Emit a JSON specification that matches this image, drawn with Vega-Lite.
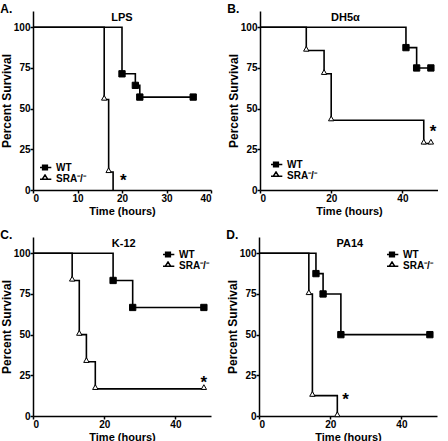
{
  "$schema": "https://vega.github.io/schema/vega-lite/v6.json",
  "padding": {"left": 0, "top": 3, "right": 0, "bottom": 0},
  "background": "white",
  "spacing": 13,
  "resolve": {"scale": {"shape": "independent", "fill": "independent", "x": "independent", "y": "independent"}, "legend": {"shape": "independent", "fill": "independent"}},
  "config": {
    "font": "Liberation Sans",
    "view": {"stroke": null},
    "axis": {"grid": false, "domainColor": "#000", "domainWidth": 1.5, "tickColor": "#000", "tickWidth": 1.5, "tickSize": 3, "labelFontSize": 10, "labelFontWeight": "bold", "labelColor": "#000", "labelPadding": 0, "titleFontSize": 11, "titleFontWeight": "bold", "titleColor": "#000"},
    "axisY": {"titleFontSize": 12, "titlePadding": 0},
    "axisX": {"titlePadding": 2},
    "legend": {"title": null, "labelFontSize": 10, "labelFontWeight": "bold", "labelColor": "#000", "symbolSize": 40, "symbolStrokeWidth": 1.5, "symbolOpacity": 1, "rowPadding": 0, "padding": 0, "labelOffset": 6, "clipHeight": 9},
    "title": {"fontSize": 12, "fontWeight": "bold", "anchor": "start", "frame": "bounds", "color": "#000", "offset": -5, "baseline": "alphabetic"}
  },
  "datasets": {
    "km": [
      {"panel": "A", "group": "WT", "t": 0, "s": 100, "m": 0},
      {"panel": "A", "group": "WT", "t": 20, "s": 71.4, "m": 1},
      {"panel": "A", "group": "WT", "t": 23, "s": 64.3, "m": 1},
      {"panel": "A", "group": "WT", "t": 24, "s": 57.1, "m": 1},
      {"panel": "A", "group": "WT", "t": 36, "s": 57.1, "m": 1},
      {"panel": "A", "group": "SRA⁻/⁻", "t": 0, "s": 100, "m": 0},
      {"panel": "A", "group": "SRA⁻/⁻", "t": 16, "s": 55.6, "m": 1},
      {"panel": "A", "group": "SRA⁻/⁻", "t": 17, "s": 11.1, "m": 1},
      {"panel": "A", "group": "SRA⁻/⁻", "t": 18, "s": 0, "m": 0},
      {"panel": "B", "group": "WT", "t": 0, "s": 100, "m": 0},
      {"panel": "B", "group": "WT", "t": 41, "s": 87.5, "m": 1},
      {"panel": "B", "group": "WT", "t": 44, "s": 75, "m": 1},
      {"panel": "B", "group": "WT", "t": 48, "s": 75, "m": 1},
      {"panel": "B", "group": "SRA⁻/⁻", "t": 0, "s": 100, "m": 0},
      {"panel": "B", "group": "SRA⁻/⁻", "t": 13, "s": 85.7, "m": 1},
      {"panel": "B", "group": "SRA⁻/⁻", "t": 18, "s": 71.4, "m": 1},
      {"panel": "B", "group": "SRA⁻/⁻", "t": 20, "s": 42.9, "m": 1},
      {"panel": "B", "group": "SRA⁻/⁻", "t": 46, "s": 28.6, "m": 1},
      {"panel": "B", "group": "SRA⁻/⁻", "t": 48, "s": 28.6, "m": 1},
      {"panel": "C", "group": "WT", "t": 0, "s": 100, "m": 0},
      {"panel": "C", "group": "WT", "t": 22.5, "s": 83.3, "m": 1},
      {"panel": "C", "group": "WT", "t": 28, "s": 66.7, "m": 1},
      {"panel": "C", "group": "WT", "t": 48, "s": 66.7, "m": 1},
      {"panel": "C", "group": "SRA⁻/⁻", "t": 0, "s": 100, "m": 0},
      {"panel": "C", "group": "SRA⁻/⁻", "t": 11, "s": 83.3, "m": 1},
      {"panel": "C", "group": "SRA⁻/⁻", "t": 13, "s": 50, "m": 1},
      {"panel": "C", "group": "SRA⁻/⁻", "t": 15, "s": 33.3, "m": 1},
      {"panel": "C", "group": "SRA⁻/⁻", "t": 17.5, "s": 16.7, "m": 1},
      {"panel": "C", "group": "SRA⁻/⁻", "t": 48, "s": 16.7, "m": 1},
      {"panel": "D", "group": "WT", "t": 0, "s": 100, "m": 0},
      {"panel": "D", "group": "WT", "t": 16, "s": 87.5, "m": 1},
      {"panel": "D", "group": "WT", "t": 18, "s": 75, "m": 1},
      {"panel": "D", "group": "WT", "t": 23, "s": 50, "m": 1},
      {"panel": "D", "group": "WT", "t": 48, "s": 50, "m": 1},
      {"panel": "D", "group": "SRA⁻/⁻", "t": 0, "s": 100, "m": 0},
      {"panel": "D", "group": "SRA⁻/⁻", "t": 14, "s": 75, "m": 1},
      {"panel": "D", "group": "SRA⁻/⁻", "t": 15, "s": 12.5, "m": 1},
      {"panel": "D", "group": "SRA⁻/⁻", "t": 22, "s": 0, "m": 1}
    ],
    "notes": [
      {"panel": "A", "kind": "name", "t": 20, "s": 106, "label": "LPS"},
      {"panel": "A", "kind": "star", "t": 20.3, "s": 8, "label": "*"},
      {"panel": "B", "kind": "name", "t": 24, "s": 106, "label": "DH5α"},
      {"panel": "B", "kind": "star", "t": 48.6, "s": 38, "label": "*"},
      {"panel": "C", "kind": "name", "t": 25.5, "s": 106, "label": "K-12"},
      {"panel": "C", "kind": "star", "t": 48, "s": 23, "label": "*"},
      {"panel": "D", "kind": "name", "t": 25.5, "s": 106, "label": "PA14"},
      {"panel": "D", "kind": "star", "t": 24.3, "s": 12, "label": "*"}
    ]
  },
  "vconcat": [
    {
      "spacing": 15,
      "resolve": {"scale": {"shape": "independent", "fill": "independent", "x": "independent", "y": "independent"}, "legend": {"shape": "independent", "fill": "independent"}},
      "hconcat": [
        {
          "title": "A.",
          "width": 178, "height": 179,
          "resolve": {"scale": {"shape": "independent", "fill": "independent"}, "legend": {"shape": "independent", "fill": "independent"}},
          "layer": [
            {"data": {"name": "km"}, "transform": [{"filter": "datum.panel === 'A'"}],
             "mark": {"type": "line", "interpolate": "step-after", "color": "#000", "strokeWidth": 1.6},
             "encoding": {
               "x": {"field": "t", "type": "quantitative", "scale": {"domain": [0, 40], "nice": false}, "axis": {"values": [0, 10, 20, 30, 40], "title": "Time (hours)"}},
               "y": {"field": "s", "type": "quantitative", "scale": {"domain": [0, 110], "nice": false}, "axis": {"values": [0, 25, 50, 75, 100], "title": "Percent Survival"}},
               "detail": {"field": "group"}}},
            {"data": {"name": "km"}, "transform": [{"filter": "datum.panel === 'A' && datum.m === 1"}],
             "mark": {"type": "point", "filled": true, "stroke": "#000", "strokeWidth": 1, "size": 40, "opacity": 1},
             "encoding": {
               "x": {"field": "t", "type": "quantitative"},
               "y": {"field": "s", "type": "quantitative"},
               "shape": {"field": "group", "type": "nominal", "scale": {"domain": ["WT", "SRA⁻/⁻"], "range": ["square", "M0,-1.3L0.85,0.2H-0.85Z"]}, "legend": null},
               "fill": {"field": "group", "type": "nominal", "scale": {"domain": ["WT", "SRA⁻/⁻"], "range": ["#000", "#fff"]}, "legend": null}}},
            {"data": {"name": "km"}, "transform": [{"filter": "datum.panel === 'A' && datum.m === 1"}],
             "mark": {"type": "point", "filled": true, "stroke": "#000", "strokeWidth": 1.5, "size": 40, "opacity": 0},
             "encoding": {
               "x": {"field": "t", "type": "quantitative"},
               "y": {"field": "s", "type": "quantitative"},
               "shape": {"field": "group", "type": "nominal", "scale": {"domain": ["WT", "SRA⁻/⁻"], "range": ["M-2,0H2M-0.75,-0.75H0.75V0.75H-0.75Z", "M-2,0.2H2M0,-1.1L0.85,0.2H-0.85Z"]},
                 "legend": {"orient": "none", "legendX": 7, "legendY": 152}},
               "fill": {"field": "group", "type": "nominal", "scale": {"domain": ["WT", "SRA⁻/⁻"], "range": ["#000", "#fff"]},
                 "legend": {"orient": "none", "legendX": 7, "legendY": 152}}}},
            {"data": {"name": "notes"}, "transform": [{"filter": "datum.panel === 'A' && datum.kind === 'name'"}],
             "mark": {"type": "text", "fontSize": 11, "fontWeight": "bold", "baseline": "middle", "color": "#000"},
             "encoding": {"x": {"field": "t", "type": "quantitative"}, "y": {"field": "s", "type": "quantitative"}, "text": {"field": "label"}}},
            {"data": {"name": "notes"}, "transform": [{"filter": "datum.panel === 'A' && datum.kind === 'star'"}],
             "mark": {"type": "text", "fontSize": 17, "fontWeight": "bold", "baseline": "middle", "dy": 4, "color": "#000"},
             "encoding": {"x": {"field": "t", "type": "quantitative"}, "y": {"field": "s", "type": "quantitative"}, "text": {"field": "label"}}}
          ]
        },
        {
          "title": "B.",
          "width": 178, "height": 179,
          "resolve": {"scale": {"shape": "independent", "fill": "independent"}, "legend": {"shape": "independent", "fill": "independent"}},
          "layer": [
            {"data": {"name": "km"}, "transform": [{"filter": "datum.panel === 'B'"}],
             "mark": {"type": "line", "interpolate": "step-after", "color": "#000", "strokeWidth": 1.6},
             "encoding": {
               "x": {"field": "t", "type": "quantitative", "scale": {"domain": [0, 50], "nice": false}, "axis": {"values": [0, 10, 20, 30, 40, 50], "title": "Time (hours)"}},
               "y": {"field": "s", "type": "quantitative", "scale": {"domain": [0, 110], "nice": false}, "axis": {"values": [0, 25, 50, 75, 100], "title": "Percent Survival"}},
               "detail": {"field": "group"}}},
            {"data": {"name": "km"}, "transform": [{"filter": "datum.panel === 'B' && datum.m === 1"}],
             "mark": {"type": "point", "filled": true, "stroke": "#000", "strokeWidth": 1, "size": 40, "opacity": 1},
             "encoding": {
               "x": {"field": "t", "type": "quantitative"},
               "y": {"field": "s", "type": "quantitative"},
               "shape": {"field": "group", "type": "nominal", "scale": {"domain": ["WT", "SRA⁻/⁻"], "range": ["square", "M0,-1.3L0.85,0.2H-0.85Z"]}, "legend": null},
               "fill": {"field": "group", "type": "nominal", "scale": {"domain": ["WT", "SRA⁻/⁻"], "range": ["#000", "#fff"]}, "legend": null}}},
            {"data": {"name": "km"}, "transform": [{"filter": "datum.panel === 'B' && datum.m === 1"}],
             "mark": {"type": "point", "filled": true, "stroke": "#000", "strokeWidth": 1.5, "size": 40, "opacity": 0},
             "encoding": {
               "x": {"field": "t", "type": "quantitative"},
               "y": {"field": "s", "type": "quantitative"},
               "shape": {"field": "group", "type": "nominal", "scale": {"domain": ["WT", "SRA⁻/⁻"], "range": ["M-2,0H2M-0.75,-0.75H0.75V0.75H-0.75Z", "M-2,0.2H2M0,-1.1L0.85,0.2H-0.85Z"]},
                 "legend": {"orient": "none", "legendX": 11, "legendY": 149}},
               "fill": {"field": "group", "type": "nominal", "scale": {"domain": ["WT", "SRA⁻/⁻"], "range": ["#000", "#fff"]},
                 "legend": {"orient": "none", "legendX": 11, "legendY": 149}}}},
            {"data": {"name": "notes"}, "transform": [{"filter": "datum.panel === 'B' && datum.kind === 'name'"}],
             "mark": {"type": "text", "fontSize": 11, "fontWeight": "bold", "baseline": "middle", "color": "#000"},
             "encoding": {"x": {"field": "t", "type": "quantitative"}, "y": {"field": "s", "type": "quantitative"}, "text": {"field": "label"}}},
            {"data": {"name": "notes"}, "transform": [{"filter": "datum.panel === 'B' && datum.kind === 'star'"}],
             "mark": {"type": "text", "fontSize": 17, "fontWeight": "bold", "baseline": "middle", "dy": 4, "color": "#000"},
             "encoding": {"x": {"field": "t", "type": "quantitative"}, "y": {"field": "s", "type": "quantitative"}, "text": {"field": "label"}}}
          ]
        }
      ]
    },
    {
      "spacing": 15,
      "resolve": {"scale": {"shape": "independent", "fill": "independent", "x": "independent", "y": "independent"}, "legend": {"shape": "independent", "fill": "independent"}},
      "hconcat": [
        {
          "title": "C.",
          "width": 178, "height": 179,
          "resolve": {"scale": {"shape": "independent", "fill": "independent"}, "legend": {"shape": "independent", "fill": "independent"}},
          "layer": [
            {"data": {"name": "km"}, "transform": [{"filter": "datum.panel === 'C'"}],
             "mark": {"type": "line", "interpolate": "step-after", "color": "#000", "strokeWidth": 1.6},
             "encoding": {
               "x": {"field": "t", "type": "quantitative", "scale": {"domain": [0, 50], "nice": false}, "axis": {"values": [0, 10, 20, 30, 40, 50], "title": "Time (hours)"}},
               "y": {"field": "s", "type": "quantitative", "scale": {"domain": [0, 110], "nice": false}, "axis": {"values": [0, 25, 50, 75, 100], "title": "Percent Survival"}},
               "detail": {"field": "group"}}},
            {"data": {"name": "km"}, "transform": [{"filter": "datum.panel === 'C' && datum.m === 1"}],
             "mark": {"type": "point", "filled": true, "stroke": "#000", "strokeWidth": 1, "size": 40, "opacity": 1},
             "encoding": {
               "x": {"field": "t", "type": "quantitative"},
               "y": {"field": "s", "type": "quantitative"},
               "shape": {"field": "group", "type": "nominal", "scale": {"domain": ["WT", "SRA⁻/⁻"], "range": ["square", "M0,-1.3L0.85,0.2H-0.85Z"]}, "legend": null},
               "fill": {"field": "group", "type": "nominal", "scale": {"domain": ["WT", "SRA⁻/⁻"], "range": ["#000", "#fff"]}, "legend": null}}},
            {"data": {"name": "km"}, "transform": [{"filter": "datum.panel === 'C' && datum.m === 1"}],
             "mark": {"type": "point", "filled": true, "stroke": "#000", "strokeWidth": 1.5, "size": 40, "opacity": 0},
             "encoding": {
               "x": {"field": "t", "type": "quantitative"},
               "y": {"field": "s", "type": "quantitative"},
               "shape": {"field": "group", "type": "nominal", "scale": {"domain": ["WT", "SRA⁻/⁻"], "range": ["M-2,0H2M-0.75,-0.75H0.75V0.75H-0.75Z", "M-2,0.2H2M0,-1.1L0.85,0.2H-0.85Z"]},
                 "legend": {"orient": "none", "legendX": 130, "legendY": 13}},
               "fill": {"field": "group", "type": "nominal", "scale": {"domain": ["WT", "SRA⁻/⁻"], "range": ["#000", "#fff"]},
                 "legend": {"orient": "none", "legendX": 130, "legendY": 13}}}},
            {"data": {"name": "notes"}, "transform": [{"filter": "datum.panel === 'C' && datum.kind === 'name'"}],
             "mark": {"type": "text", "fontSize": 11, "fontWeight": "bold", "baseline": "middle", "color": "#000"},
             "encoding": {"x": {"field": "t", "type": "quantitative"}, "y": {"field": "s", "type": "quantitative"}, "text": {"field": "label"}}},
            {"data": {"name": "notes"}, "transform": [{"filter": "datum.panel === 'C' && datum.kind === 'star'"}],
             "mark": {"type": "text", "fontSize": 17, "fontWeight": "bold", "baseline": "middle", "dy": 4, "color": "#000"},
             "encoding": {"x": {"field": "t", "type": "quantitative"}, "y": {"field": "s", "type": "quantitative"}, "text": {"field": "label"}}}
          ]
        },
        {
          "title": "D.",
          "width": 178, "height": 179,
          "resolve": {"scale": {"shape": "independent", "fill": "independent"}, "legend": {"shape": "independent", "fill": "independent"}},
          "layer": [
            {"data": {"name": "km"}, "transform": [{"filter": "datum.panel === 'D'"}],
             "mark": {"type": "line", "interpolate": "step-after", "color": "#000", "strokeWidth": 1.6},
             "encoding": {
               "x": {"field": "t", "type": "quantitative", "scale": {"domain": [0, 50], "nice": false}, "axis": {"values": [0, 10, 20, 30, 40, 50], "title": "Time (hours)"}},
               "y": {"field": "s", "type": "quantitative", "scale": {"domain": [0, 110], "nice": false}, "axis": {"values": [0, 25, 50, 75, 100], "title": "Percent Survival"}},
               "detail": {"field": "group"}}},
            {"data": {"name": "km"}, "transform": [{"filter": "datum.panel === 'D' && datum.m === 1"}],
             "mark": {"type": "point", "filled": true, "stroke": "#000", "strokeWidth": 1, "size": 40, "opacity": 1},
             "encoding": {
               "x": {"field": "t", "type": "quantitative"},
               "y": {"field": "s", "type": "quantitative"},
               "shape": {"field": "group", "type": "nominal", "scale": {"domain": ["WT", "SRA⁻/⁻"], "range": ["square", "M0,-1.3L0.85,0.2H-0.85Z"]}, "legend": null},
               "fill": {"field": "group", "type": "nominal", "scale": {"domain": ["WT", "SRA⁻/⁻"], "range": ["#000", "#fff"]}, "legend": null}}},
            {"data": {"name": "km"}, "transform": [{"filter": "datum.panel === 'D' && datum.m === 1"}],
             "mark": {"type": "point", "filled": true, "stroke": "#000", "strokeWidth": 1.5, "size": 40, "opacity": 0},
             "encoding": {
               "x": {"field": "t", "type": "quantitative"},
               "y": {"field": "s", "type": "quantitative"},
               "shape": {"field": "group", "type": "nominal", "scale": {"domain": ["WT", "SRA⁻/⁻"], "range": ["M-2,0H2M-0.75,-0.75H0.75V0.75H-0.75Z", "M-2,0.2H2M0,-1.1L0.85,0.2H-0.85Z"]},
                 "legend": {"orient": "none", "legendX": 128, "legendY": 13}},
               "fill": {"field": "group", "type": "nominal", "scale": {"domain": ["WT", "SRA⁻/⁻"], "range": ["#000", "#fff"]},
                 "legend": {"orient": "none", "legendX": 128, "legendY": 13}}}},
            {"data": {"name": "notes"}, "transform": [{"filter": "datum.panel === 'D' && datum.kind === 'name'"}],
             "mark": {"type": "text", "fontSize": 11, "fontWeight": "bold", "baseline": "middle", "color": "#000"},
             "encoding": {"x": {"field": "t", "type": "quantitative"}, "y": {"field": "s", "type": "quantitative"}, "text": {"field": "label"}}},
            {"data": {"name": "notes"}, "transform": [{"filter": "datum.panel === 'D' && datum.kind === 'star'"}],
             "mark": {"type": "text", "fontSize": 17, "fontWeight": "bold", "baseline": "middle", "dy": 4, "color": "#000"},
             "encoding": {"x": {"field": "t", "type": "quantitative"}, "y": {"field": "s", "type": "quantitative"}, "text": {"field": "label"}}}
          ]
        }
      ]
    }
  ]
}
